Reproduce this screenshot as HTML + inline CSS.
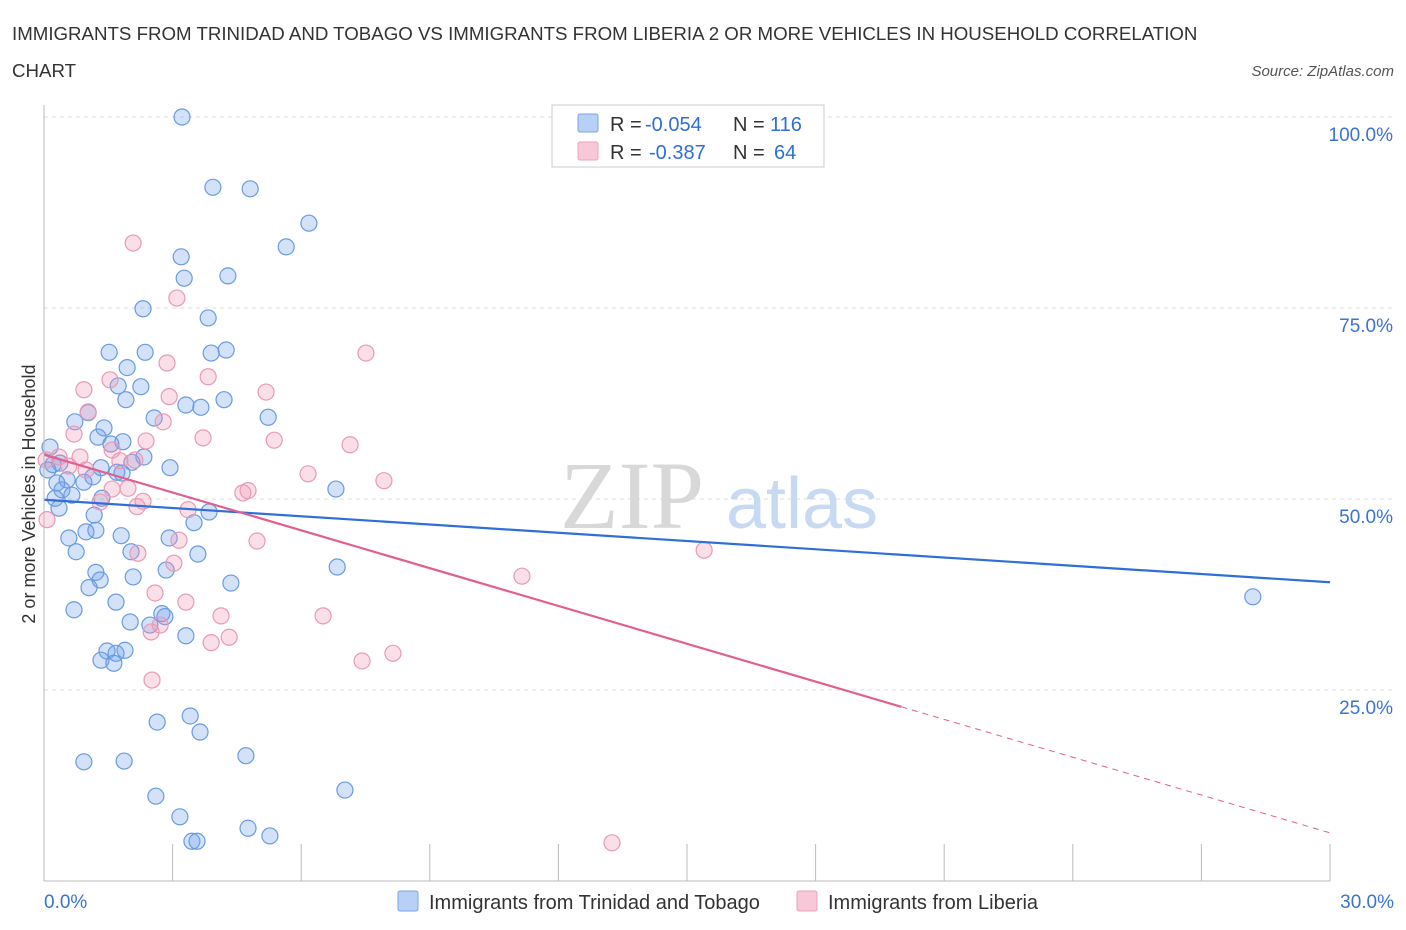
<!DOCTYPE html>
<html><head><meta charset="utf-8"><style>
body{margin:0;background:#fff;font-family:"Liberation Sans",sans-serif;}
#wrap{position:relative;width:1406px;height:930px;overflow:hidden;}
</style></head><body>
<div id="wrap">
<svg id="svg" width="1406" height="930" xmlns="http://www.w3.org/2000/svg">
<text x="12" y="40" font-size="18.7" fill="#333">IMMIGRANTS FROM TRINIDAD AND TOBAGO VS IMMIGRANTS FROM LIBERIA 2 OR MORE VEHICLES IN HOUSEHOLD CORRELATION</text>
<text x="12" y="77" font-size="18.7" fill="#333">CHART</text>
<text x="1394" y="76" font-size="15" fill="#555" font-style="italic" text-anchor="end">Source: ZipAtlas.com</text>
<g id="grid"></g>
<g><text x="632" y="528" font-size="96" font-family="Liberation Serif" fill="#d8d8d8" text-anchor="middle">ZIP</text><text x="802" y="528" font-size="72" fill="#c8daf2" text-anchor="middle">atlas</text></g>
<g id="pts"></g>
<g id="trend"></g>
<g id="axes"></g>
<g>
<rect x="552" y="105" width="272" height="62" fill="#fff" stroke="#ccc"/>
<rect x="578" y="114" width="20" height="18" fill="#b8d0f5" stroke="#7aa4e6" rx="2"/>
<rect x="578" y="142" width="20" height="18" fill="#f8c8d8" stroke="#eba0bb" rx="2"/>
<text x="610" y="131" font-size="20" fill="#333">R =</text>
<text x="645" y="131" font-size="20" fill="#2f6fd6">-0.054</text>
<text x="733" y="131" font-size="20" fill="#333">N =</text>
<text x="770" y="131" font-size="20" fill="#2f6fd6">116</text>
<text x="610" y="159" font-size="20" fill="#333">R =</text>
<text x="649" y="159" font-size="20" fill="#2f6fd6">-0.387</text>
<text x="733" y="159" font-size="20" fill="#333">N =</text>
<text x="774" y="159" font-size="20" fill="#2f6fd6">64</text>
</g>
<text transform="translate(35,494) rotate(-90)" font-size="18" fill="#333" text-anchor="middle">2 or more Vehicles in Household</text>
<g>
<rect x="398" y="891" width="20" height="20" fill="#b8d0f5" stroke="#7aa4e6" rx="2"/>
<text x="429" y="909" font-size="20" fill="#333">Immigrants from Trinidad and Tobago</text>
<rect x="797" y="891" width="20" height="20" fill="#f8c8d8" stroke="#eba0bb" rx="2"/>
<text x="828" y="909" font-size="20" fill="#333">Immigrants from Liberia</text>
</g>
</svg>
</div>
<script>
const blueX=[3.22,3.94,4.81,6.18,5.65,3.20,3.27,4.29,2.31,3.83,1.52,2.36,3.90,4.25,1.94,1.73,2.26,4.20,1.91,3.31,3.66,1.03,0.72,2.57,5.23,1.40,1.26,1.84,1.56,2.33,0.37,0.21,2.94,2.05,1.33,1.82,1.14,1.70,0.54,0.42,0.65,1.35,0.26,6.81,0.35,1.17,3.85,3.50,1.21,0.98,0.58,1.80,2.92,0.75,2.03,3.59,2.85,1.21,1.31,1.05,2.08,4.36,1.68,0.70,2.75,2.82,6.84,2.01,2.47,3.31,1.47,1.33,1.68,1.89,1.63,3.41,2.64,3.64,0.93,1.87,4.71,2.61,7.02,3.17,4.76,5.27,3.45,3.57,28.2,0.14,0.09,0.30,0.93];
const blueY=[100,90.8,90.6,86.1,83.0,81.7,78.9,79.2,74.9,73.7,69.2,69.2,69.1,69.5,67.2,64.8,64.7,63.0,63.0,62.3,62.0,61.3,60.1,60.6,60.7,59.3,58.1,57.5,57.2,55.5,54.7,54.5,54.1,54.8,54.1,53.4,52.9,53.5,52.5,51.2,50.5,50.1,50.1,51.3,48.8,47.9,48.3,46.9,45.9,45.7,44.9,45.2,44.9,43.1,43.1,42.8,40.7,40.4,39.4,38.4,39.8,39.0,36.5,35.5,35.0,34.6,41.1,33.9,33.5,32.1,30.1,28.9,29.8,30.2,28.5,21.6,20.8,19.5,15.6,15.7,16.4,11.1,11.9,8.4,6.9,5.9,5.2,5.2,37.2,56.8,53.8,52.1,52.2];
const pinkX=[2.08,3.10,7.51,2.87,3.83,0.93,5.18,2.92,1.54,1.03,2.78,3.71,2.38,5.37,7.14,0.70,1.59,0.35,0.84,2.12,1.77,0.58,6.16,7.93,1.96,1.59,4.76,4.64,2.31,2.17,1.31,3.36,3.15,4.97,2.19,3.03,15.40,11.15,2.59,3.31,2.71,4.13,2.50,6.51,3.90,4.32,8.14,7.42,2.52,13.25,0.07,0.05,0.98];
const pinkY=[83.5,76.3,69.1,67.8,66.0,64.3,64.0,63.4,65.6,61.4,60.1,58.0,57.6,57.7,57.1,58.5,56.4,55.5,55.5,55.1,55.0,54.3,53.3,52.4,51.4,51.3,51.1,50.8,49.7,49.0,49.6,48.6,44.6,44.5,42.9,41.6,43.3,39.9,37.7,36.5,33.5,34.7,32.6,34.7,31.2,31.9,29.8,28.8,26.3,5.0,47.3,55.1,53.8];
const trendIntercept=[49.9,55.8];
const trendSlope=[-0.36,-1.65];
const xTicks=[0,3,6,9,12,15,18,21,24,27,30];
const yTicks=[25,50,75,100];
const yTickLabels=["25.0%","50.0%","75.0%","100.0%"];

const NS="http://www.w3.org/2000/svg";
const X0=44,X1=1330,Y0=881,Y100=117;
const sx=v=>X0+(v/30)*(X1-X0);
const sy=v=>Y0-(v/100)*(Y0-Y100);
function mk(tag,attrs,parent){const e=document.createElementNS(NS,tag);for(const k in attrs)e.setAttribute(k,attrs[k]);parent.appendChild(e);return e;}
const grid=document.getElementById('grid'),axes=document.getElementById('axes'),pts=document.getElementById('pts'),trend=document.getElementById('trend');
yTicks.forEach((t,i)=>{
  const l=mk('line',{x1:X0,x2:1394,y1:sy(t),y2:sy(t),stroke:'#ddd','stroke-dasharray':'4,4'},grid);
  
  
  const tx=mk('text',{x:1393,y:sy(t)+24,'font-size':19,fill:'#3b73d1','text-anchor':'end'},axes);
  tx.textContent=yTickLabels[i];
  
  
});
const ya=mk('line',{x1:X0,x2:X0,y1:105,y2:Y0,stroke:'#bbb'},axes);


const xa=mk('line',{x1:X0,x2:X1,y1:Y0,y2:Y0,stroke:'#bbb'},axes);


xTicks.forEach(t=>{
  const l=mk('line',{x1:sx(t),x2:sx(t),y1:Y0-37,y2:Y0,stroke:'#bbb'},axes);
  
  
});
[[0,'0.0%','start',X0],[30,'30.0%','end',1394]].forEach(a=>{
  const tx=mk('text',{x:a[3],y:908,'font-size':19,fill:'#3b73d1','text-anchor':a[2]},axes);
  tx.textContent=a[1];
  
  
});
blueX.forEach((v,i)=>{
  const c=mk('circle',{cx:sx(v),cy:sy(blueY[i]),r:8,fill:'rgba(110,160,235,0.3)',stroke:'#6a9be0','stroke-width':1.2},pts);
  
  
});
pinkX.forEach((v,i)=>{
  const c=mk('circle',{cx:sx(v),cy:sy(pinkY[i]),r:8,fill:'rgba(240,150,180,0.3)',stroke:'#e89ab5','stroke-width':1.2},pts);
  
  
});
const bt=mk('line',{x1:sx(0),y1:sy(trendIntercept[0]),x2:sx(30),y2:sy(trendIntercept[0]+trendSlope[0]*30),stroke:'#2f6fd6','stroke-width':2.2},trend);


const pe=20;
const pt1=mk('line',{x1:sx(0),y1:sy(trendIntercept[1]),x2:sx(pe),y2:sy(trendIntercept[1]+trendSlope[1]*pe),stroke:'#e0608f','stroke-width':2.2},trend);


const pt2=mk('line',{x1:sx(pe),y1:sy(trendIntercept[1]+trendSlope[1]*pe),x2:sx(30),y2:sy(trendIntercept[1]+trendSlope[1]*30),stroke:'#e0608f','stroke-width':1,'stroke-dasharray':'6,5'},trend);


</script>
</body></html>
